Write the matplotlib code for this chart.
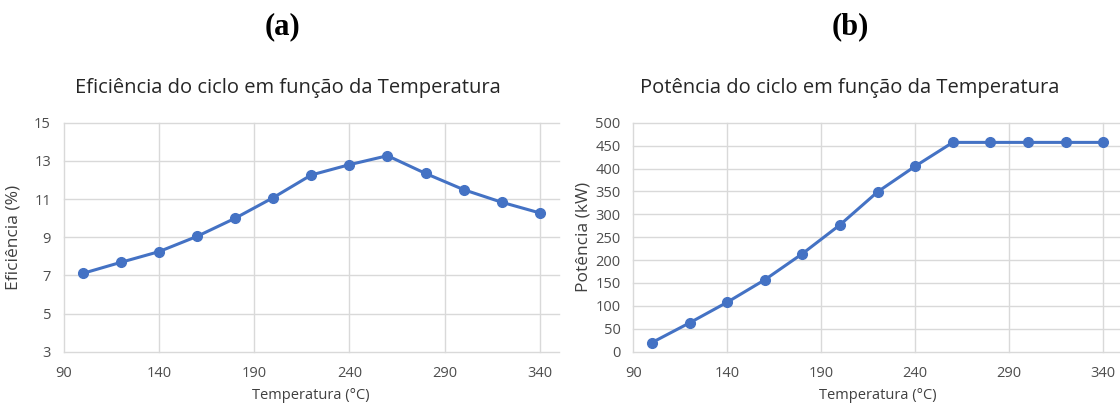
import matplotlib
matplotlib.use("Agg")
import matplotlib.pyplot as plt

temperatura = [100, 120, 140, 160, 180, 200, 220, 240, 260, 280, 300, 320, 340]
eficiencia = [7.10, 7.68, 8.24, 9.04, 9.99, 11.07, 12.26, 12.80, 13.27, 12.34, 11.49, 10.83, 10.27]
potencia = [20, 63, 108, 157, 214, 277, 349, 405, 457, 457, 457, 457, 457]

x_ticks = [90, 140, 190, 240, 290, 340]
y_ticks_a = [3, 5, 7, 9, 11, 13, 15]
y_ticks_b = [0, 50, 100, 150, 200, 250, 300, 350, 400, 450, 500]

plt.rcParams['font.family'] = ['Open Sans', 'DejaVu Sans']

W, H = 1120, 405
fig = plt.figure(figsize=(W / 100, H / 100), dpi=100)

line_color = '#4472C4'
grid_color = '#D9D9D9'
text_color = '#4D4D4D'


def px_axes(left, right, top, bottom):
    return fig.add_axes([left / W, 1 - bottom / H, (right - left) / W, (bottom - top) / H])


def style(ax, yticks, ylim, ylabel, ylabel_x, title, title_x):
    ax.set_xlim(90, 350)
    ax.set_ylim(*ylim)
    ax.set_xticks(x_ticks)
    ax.set_yticks(yticks)
    for s in ax.spines.values():
        s.set_visible(False)
    ax.grid(True, color=grid_color, linewidth=1.0)
    for gl in ax.get_xgridlines() + ax.get_ygridlines():
        gl.set_clip_on(False)
    ax.set_axisbelow(True)
    ax.tick_params(length=0, labelsize=10.5, colors=text_color)
    ax.tick_params(axis='x', pad=10)
    ax.tick_params(axis='y', pad=9)
    ax.set_xlabel('Temperatura (°C)', fontsize=10.5, color='#404040', labelpad=5)
    ax.set_ylabel(ylabel, fontsize=12.5, color='#404040', va='center')
    ax.yaxis.set_label_coords(ylabel_x / W, 0.5 * (1 - 122.7 / H + 1 - 351.7 / H),
                              transform=fig.transFigure)
    fig.text(title_x / W, 1 - 88 / H, title, fontsize=14.5, color='#262626',
             ha='center', va='center')


ax1 = px_axes(63.5, 559, 122.7, 351.7)
ax1.plot(temperatura, eficiencia, color=line_color, linewidth=2.2, marker='o',
         markersize=7, clip_on=False)
style(ax1, y_ticks_a, (3, 15), 'Eficiência (%)', 14,
      'Eficiência do ciclo em função da Temperatura', 288)

ax2 = px_axes(633.2, 1122, 122.7, 351.7)
ax2.plot(temperatura, potencia, color=line_color, linewidth=2.2, marker='o',
         markersize=7, clip_on=False)
style(ax2, y_ticks_b, (0, 500), 'Potência (kW)', 583,
      'Potência do ciclo em função da Temperatura', 850)

fig.text(283 / W, 1 - 27 / H, '(a)', fontsize=22, fontweight='bold',
         family='Liberation Serif', ha='center', va='center', color='black')
fig.text(850 / W, 1 - 27 / H, '(b)', fontsize=22, fontweight='bold',
         family='Liberation Serif', ha='center', va='center', color='black')

fig.savefig('out.png', dpi=100, facecolor='white')
